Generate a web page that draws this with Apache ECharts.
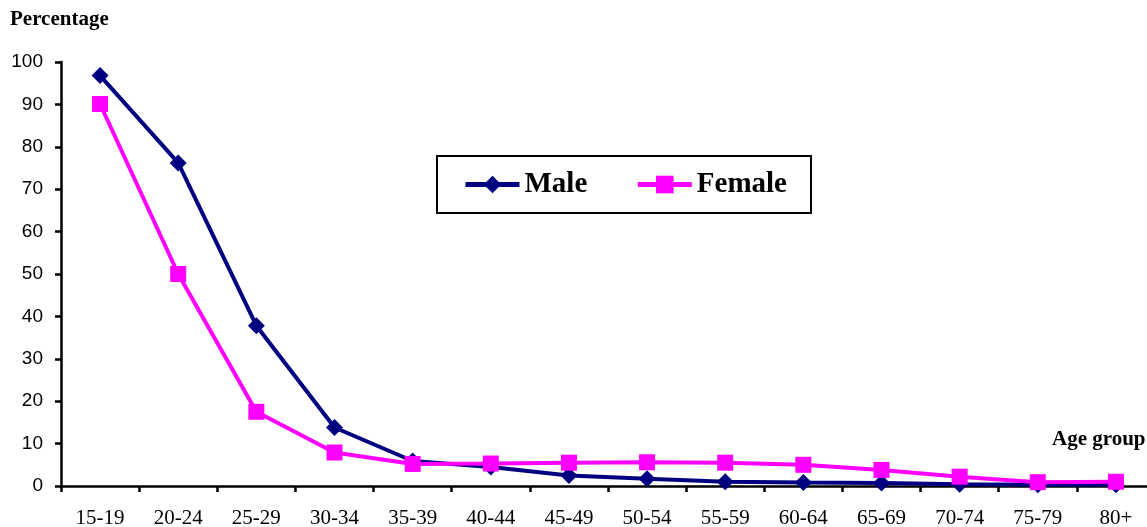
<!DOCTYPE html>
<html>
<head>
<meta charset="utf-8">
<script src="https://cdn.jsdelivr.net/npm/echarts@6/dist/echarts.min.js"></script>
<style>
  html, body { margin: 0; padding: 0; background: #fff; }
  #chart { width: 1147px; height: 527px; }
</style>
</head>
<body>
<div id="chart"></div>
<script>
// age groups on the x axis
var ageGroups = ['15-19', '20-24', '25-29', '30-34', '35-39', '40-44', '45-49',
  '50-54', '55-59', '60-64', '65-69', '70-74', '75-79', '80+']
// percentage values
var maleValues = [96.8, 76.2, 37.8, 13.8, 5.9, 4.5, 2.5, 1.7, 1.0, 0.8, 0.7, 0.4, 0.3, 0.3]
var femaleValues = [90.1, 50.0, 17.5, 7.9, 5.2, 5.3, 5.5, 5.6, 5.5, 5.0, 3.8, 2.2, 0.9, 1.0]
var yTicks = [0, 10, 20, 30, 40, 50, 60, 70, 80, 90, 100]

var chart = echarts.init(document.getElementById('chart'))
var serif = '"Liberation Serif", "Times New Roman", serif'
var sans = '"Liberation Sans", Arial, sans-serif'

var option = {
  animation: false,
  // axis titles
  title: [{
    text: 'Percentage',
    left: 10,
    top: 9,
    padding: 0,
    textStyle: { fontFamily: serif, fontWeight: 'bold', fontSize: 21, color: '#000' }
  }, {
    text: 'Age group',
    left: 1052,
    top: 429,
    padding: 0,
    textStyle: { fontFamily: serif, fontWeight: 'bold', fontSize: 21, color: '#000' }
  }],
  legend: {
    left: 437,
    top: 156,
    padding: [14, 24, 14, 26],
    itemWidth: 54,
    itemHeight: 22,
    itemGap: 48,
    borderColor: '#000',
    borderWidth: 2,
    lineStyle: { width: 5 },
    textStyle: { fontFamily: serif, fontWeight: 'bold', fontSize: 29, color: '#000' },
    data: ['Male', 'Female']
  },
  grid: {
    left: 61,
    top: 62,
    width: 1094,
    bottom: 41,
    containLabel: false,
    outerBoundsMode: 'none'
  },
  xAxis: {
    type: 'category',
    boundaryGap: true,
    data: ageGroups,
    axisLine: { lineStyle: { color: '#000', width: 2.5 } },
    axisTick: { show: true, length: 6, lineStyle: { color: '#000', width: 2.5 } },
    axisLabel: { fontFamily: serif, fontSize: 21, color: '#000', margin: 22, interval: 0 },
    splitLine: { show: false }
  },
  yAxis: {
    type: 'value',
    min: yTicks[0],
    max: yTicks[yTicks.length - 1],
    interval: 10,
    axisLine: { show: true, lineStyle: { color: '#000', width: 2.5 } },
    axisTick: { show: true, length: 6, lineStyle: { color: '#000', width: 2.5 } },
    axisLabel: { fontFamily: sans, fontSize: 19, color: '#000', margin: 18 },
    splitLine: { show: false }
  },
  series: [{
    name: 'Male',
    type: 'line',
    data: maleValues,
    symbol: 'diamond',
    symbolSize: 17,
    lineStyle: { color: '#000080', width: 4 },
    itemStyle: { color: '#000080' },
    z: 2
  }, {
    name: 'Female',
    type: 'line',
    data: femaleValues,
    symbol: 'rect',
    symbolSize: 16,
    lineStyle: { color: '#ff00ff', width: 4 },
    itemStyle: { color: '#ff00ff' },
    z: 3
  }]
}
chart.setOption(option)
</script>
</body>
</html>
